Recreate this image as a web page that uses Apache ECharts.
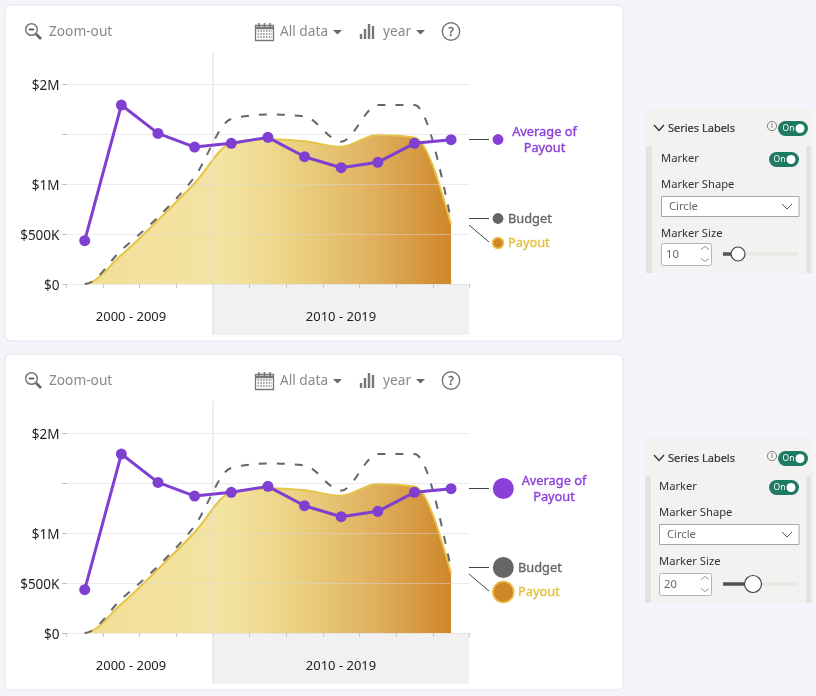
<!DOCTYPE html>
<html>
<head>
<meta charset="utf-8">
<title>Series label marker sizes</title>
<script src="https://cdn.jsdelivr.net/npm/echarts@6/dist/echarts.min.js"></script>
<style>
html,body{margin:0;padding:0;background:#f3f5fa;}
#chart{width:816px;height:696px;}
</style>
</head>
<body>
<div id="chart"></div>
<script>
// Yearly figures shown in both cards
const years = ['2006','2007','2008','2009','2010','2011','2012','2013','2014','2015','2016'];
const averagePayout = [434000,1794000,1510000,1373000,1410000,1470000,1276000,1166000,1220000,1410000,1447000];
const budget = [0,340000,670000,1075000,1655000,1700000,1680000,1427000,1794000,1794000,640000];
const payout = [0,290000,640000,1010000,1410000,1450000,1430000,1376000,1497000,1470000,600000];
const yTicks = {0:'$0',500000:'$500K',1000000:'$1M',2000000:'$2M'};
const decades = ['2000 - 2009','2010 - 2019'];
const seriesNames = {avg:['Average of','Payout'],budget:'Budget',payout:'Payout'};

const FONT = '"Noto Sans", sans-serif';
const PURPLE = '#7f3fd0', GOLD = '#e6c445', GREY = '#666666', ORANGE = '#d0872a';
const GREEN = '#1f7a64', TOOL = '#8a8a8a', INK = '#3c3c3c';

const cards = [
  {dy:0, markerR:5.4, avgX:544.5, labelX:508, markerSize:'10', knobX:738, knobR:7, panelDy:0, panelDx:0, spinW:50},
  {dy:349, markerR:10.5, avgX:554, labelX:518, markerSize:'20', knobX:753, knobR:8.5, panelDy:330, panelDx:-2, spinW:52}
];

function text(x, y, str, o) {
  o = o || {};
  const style = {x, y:y+0.8, text:str,
    fill:o.fill||INK, font:'400 '+(o.size||13)+'px '+FONT,
    textAlign:o.align||'left', textVerticalAlign:'middle', verticalAlign:'middle'};
  if (o.heavy) { style.stroke = o.fill; style.lineWidth = o.heavy; }
  return {type:'text', z:o.z||5, silent:true, style};
}
function line(x1,y1,x2,y2,color,w,z) {
  return {type:'line', z:z||5, silent:true, shape:{x1,y1,x2,y2}, style:{stroke:color,lineWidth:w||1,lineCap:'butt'}};
}
function rect(x,y,width,height,o) {
  o = o || {};
  return {type:'rect', z:o.z==null?1:o.z, silent:true, shape:{x,y,width,height,r:o.r||0},
    style:{fill:o.fill||'none', stroke:o.stroke||null, lineWidth:o.lw||1}};
}
function circle(cx,cy,r,o) {
  return {type:'circle', z:o.z||5, silent:true, shape:{cx,cy,r},
    style:{fill:o.fill||'none', stroke:o.stroke||null, lineWidth:o.lw||1}};
}
function poly(points, o) {
  return {type:'polyline', z:5, silent:true, shape:{points}, style:{stroke:o.stroke,lineWidth:o.lw||1.2,fill:'none'}};
}
function tri(x,y,w,h,color) {
  return {type:'polygon', z:5, silent:true, shape:{points:[[x,y],[x+w,y],[x+w/2,y+h]]}, style:{fill:color}};
}
function toggle(x,y,w,h) {
  return [
    rect(x,y,w,h,{fill:GREEN,r:h/2,z:5}),
    text(x+w*0.35,y+h/2-0.5,'On',{fill:'#ffffff',size:8.5,align:'center',z:6}),
    circle(x+w-h/2-0.5,y+h/2,h/2-3,{fill:'#ffffff',z:6})
  ];
}

// Card frame, toolbar, decade band and series labels for one chart
function cardGraphics(c) {
  const d = c.dy, els = [];
  els.push(rect(5,5+d,618,336,{fill:'#ffffff',stroke:'#e2e5ec',r:6,z:-3}));
  els.push(rect(213,284+d,256,51,{fill:'#f1f1f1',z:-2}));
  els.push(line(213,52+d,213,335+d,'rgba(222,222,222,0.7)',1.5,4));
  els.push(text(131,316+d,decades[0],{align:'center',size:13,fill:'#222'}));
  els.push(text(341,316+d,decades[1],{align:'center',size:13,fill:'#222'}));

  // Zoom-out magnifier
  els.push(circle(31.5,29.5+d,5.8,{stroke:'#777',lw:1.5}));
  els.push(line(28.8,29.5+d,34.2,29.5+d,'#555',1.8));
  els.push(line(36,34+d,41,39+d,'#666',2.6));
  els.push(text(49,31.5+d,'Zoom-out',{fill:TOOL,size:13.7}));

  // Calendar
  els.push(rect(255.5,25.5+d,18,15,{stroke:'#777',lw:1.3,z:5}));
  els.push(line(255.5,28+d,273.5,28+d,'#777',2.5));
  [259,264.5,270].forEach(x=>els.push(line(x,23+d,x,27+d,'#777',1.6)));
  [31,34,37].forEach(y=>els.push({type:'line',z:5,silent:true,shape:{x1:257.5,y1:y+d,x2:272,y2:y+d},style:{stroke:'#888',lineWidth:1.6,lineDash:[1.6,1.2]}}));
  els.push(text(280,31.5+d,'All data',{fill:TOOL,size:13.7}));
  els.push(tri(333,30+d,9,4.5,'#666'));

  // Granularity bars
  [[361,34],[365,29],[369,24],[373,26]].forEach(b=>els.push(line(b[0],b[1]+d,b[0],39+d,'#777',2.4)));
  els.push(text(383,31.5+d,'year',{fill:TOOL,size:13.7}));
  els.push(tri(416,30+d,9,4.5,'#666'));

  // Help
  els.push(circle(451,31.5+d,8.7,{stroke:'#777',lw:1.4}));
  els.push(text(451,31.5+d,'?',{fill:'#666',size:12,align:'center',heavy:0.4}));

  // Series labels beside the plot
  const r = c.markerR, mx = 498 + (r>6?5.3:0);
  const avgY = 139.5+d, budY = 218.5+d, payY = 243+d;
  els.push(line(469,avgY,489,avgY,'#444',1));
  els.push(line(469,budY,489,budY,'#444',1));
  els.push(line(469,225+d,489,242+d,'#444',1));
  els.push(circle(mx,avgY,r,{fill:'#8a3fd6'}));
  els.push(circle(mx,budY,r,{fill:GREY}));
  els.push(circle(mx,payY,r,{fill:ORANGE,stroke:GOLD,lw:1.6}));
  els.push(text(c.avgX,132+d,seriesNames.avg[0],{fill:'#8a3fd6',size:12.8,heavy:0.35,align:'center'}));
  els.push(text(c.avgX,148+d,seriesNames.avg[1],{fill:'#8a3fd6',size:12.8,heavy:0.35,align:'center'}));
  els.push(text(c.labelX,budY,seriesNames.budget,{fill:GREY,size:12.8,heavy:0.35}));
  els.push(text(c.labelX,payY,seriesNames.payout,{fill:'#e6c03c',size:12.8,heavy:0.35}));
  return els;
}

// Format pane showing the marker settings next to a chart
function panelGraphics(c) {
  const d = c.panelDy, e = c.panelDx, els = [];
  const shift = d ? -2 : 0;            // the lower pane's body sits a little higher
  els.push(rect(645,108+d,168,165,{fill:'#f3f2f0',z:0}));
  els.push(rect(646+e/2,146+d,6,127,{fill:'#e4e3df',z:1}));
  els.push(rect(806,146+d,5,127,{fill:'#e4e3df',z:1}));
  els.push(poly([[654,125+d],[659,130.5+d],[664,125+d]],{stroke:'#333',lw:1.3}));
  els.push(text(668,128+d,'Series Labels',{size:11,heavy:0.2,fill:'#333'}));
  els.push(circle(772,126+d,4.6,{stroke:'#777',lw:0.9}));
  els.push(text(772,125.5+d,'i',{size:7,align:'center',fill:'#555'}));
  toggle(778,121+d,30,15).forEach(x=>els.push(x));
  const x0 = 661+e;
  els.push(text(x0,158+d+shift,'Marker',{size:11.2,fill:'#333'}));
  toggle(769,152+d+shift,30,15).forEach(x=>els.push(x));
  els.push(text(x0,184+d+shift,'Marker Shape',{size:11.2,fill:'#333'}));
  els.push(rect(x0+.5,196+d+shift+.5,799-x0-.5,20,{fill:'#ffffff',stroke:'#a6a6a6',z:2}));
  els.push(text(x0+8,206+d+shift,'Circle',{size:11.2,fill:'#666'}));
  els.push(poly([[782,204+d+shift],[787,209+d+shift],[792,204+d+shift]],{stroke:'#555',lw:1}));
  els.push(text(x0,233+d+shift,'Marker Size',{size:11.2,fill:'#333'}));
  const sy = 243+d;
  els.push(rect(x0+.5,sy+.5,c.spinW,22,{fill:'#ffffff',stroke:'#b4b4b4',r:2,z:2}));
  els.push(text(x0+5,sy+11,c.markerSize,{size:11.2,fill:'#666'}));
  els.push(poly([[701,sy+6.5],[705,sy+3.5],[709,sy+6.5]],{stroke:'#888',lw:.9}));
  els.push(poly([[701,sy+15.5],[705,sy+18.5],[709,sy+15.5]],{stroke:'#888',lw:.9}));
  els.push(line(723,sy+11,798,sy+11,'#e9e8e5',3.5));
  els.push(line(723,sy+11,c.knobX,sy+11,'#555',3.5));
  els.push(circle(c.knobX,sy+11,c.knobR,{fill:'#ffffff',stroke:'#444',lw:1.2,z:6}));
  return els;
}

// Monotone cubic path through pixel points: flat at local extrema and at the start
function monotonePath(pts) {
  const n = pts.length, slopes = [];
  const sign = v => v < 0 ? -1 : 1;
  for (let i = 1; i < n - 1; i++) {
    const h0 = pts[i][0]-pts[i-1][0], h1 = pts[i+1][0]-pts[i][0];
    const s0 = (pts[i][1]-pts[i-1][1])/h0, s1 = (pts[i+1][1]-pts[i][1])/h1;
    const p = (s0*h1+s1*h0)/(h0+h1);
    slopes[i] = (sign(s0)+sign(s1))*Math.min(Math.abs(s0),Math.abs(s1),0.5*Math.abs(p)) || 0;
  }
  const edge = (a,b,t) => (3*(b[1]-a[1])/(b[0]-a[0]) - t)/2;
  slopes[0] = 0;
  slopes[n-1] = edge(pts[n-2],pts[n-1],slopes[n-2]);
  let d = 'M'+pts[0][0]+' '+pts[0][1];
  for (let i = 0; i < n-1; i++) {
    const dx = (pts[i+1][0]-pts[i][0])/3;
    d += 'C'+(pts[i][0]+dx)+' '+(pts[i][1]+dx*slopes[i])+' '+(pts[i+1][0]-dx)+' '+(pts[i+1][1]-dx*slopes[i+1])+' '+pts[i+1][0]+' '+pts[i+1][1];
  }
  return d;
}

// Curve series: one path per chart, placed through the axis scales
function curveSeries(name, values, axis, z, strokeStyle, fill) {
  return {
    name, type:'custom', xAxisIndex:axis, yAxisIndex:axis, z, coordinateSystem:'cartesian2d',
    data:values.map((v,i)=>[i,v]), encode:{x:0,y:1}, silent:true,
    renderItem(params, api) {
      if (params.dataIndex !== 0) return null;
      const pts = values.map((v,i)=>api.coord([i,v]));
      const curve = monotonePath(pts);
      const children = [];
      if (fill) {
        const base = api.coord([0,0])[1];
        const last = pts[pts.length-1], first = pts[0];
        children.push({type:'path', shape:{pathData:curve+'L'+last[0]+' '+base+'L'+first[0]+' '+base+'Z'},
          style:{fill, stroke:null}});
      }
      children.push({type:'path', shape:{pathData:curve}, style:Object.assign({fill:null}, strokeStyle)});
      return {type:'group', children};
    }
  };
}

const grids = cards.map(c=>({left:66.4,width:403,top:84.5+c.dy,height:199.5,containLabel:false}));
const xAxes = cards.map((c,i)=>({
  type:'category', gridIndex:i, data:years, boundaryGap:true,
  axisLine:{show:false}, axisLabel:{show:false},
  axisTick:{show:true,length:4,lineStyle:{color:'#c8c8c8'}}, splitLine:{show:false}
}));
const yAxes = cards.map((c,i)=>({
  type:'value', gridIndex:i, min:0, max:2000000, interval:500000, z:3,
  axisLine:{show:false},
  axisTick:{show:true,length:4,lineStyle:{color:'#b8b8b8'}},
  axisLabel:{margin:7,formatter:v=>yTicks[v]?'{t|'+yTicks[v]+'}':'',
    rich:{t:{color:'#222',fontFamily:FONT,fontSize:13.5,padding:[4,0,0,0]}}},
  splitLine:{show:true,lineStyle:{color:'rgba(215,215,215,0.5)',width:1}}
}));
const series = [];
cards.forEach((c,i)=>{
  series.push(curveSeries('Payout',payout,i,2,{stroke:GOLD,lineWidth:2},
    new echarts.graphic.LinearGradient(0,0,1,0,[
      {offset:0,color:'#f1df98'},{offset:0.38,color:'#f3e4a2'},{offset:0.5,color:'#efd98e'},{offset:0.62,color:'#e8cb7a'},
      {offset:0.8,color:'#dfae5c'},{offset:1,color:'#cf872a'}])));
  series.push(curveSeries('Budget',budget,i,4,{stroke:GREY,lineWidth:2,lineDash:[8,10]}));
  series.push({
    name:'Average of Payout', type:'line', xAxisIndex:i, yAxisIndex:i, data:averagePayout, z:6,
    symbol:'circle', symbolSize:11, showSymbol:true,
    lineStyle:{color:PURPLE,width:3}, itemStyle:{color:PURPLE,borderWidth:0}
  });
});

const chart = echarts.init(document.getElementById('chart'),null,{renderer:'canvas',width:816,height:696});
chart.setOption({
  animation:false,
  backgroundColor:'#f3f5fa',
  grid:grids, xAxis:xAxes, yAxis:yAxes, series,
  graphic:{elements:cards.flatMap(c=>cardGraphics(c).concat(panelGraphics(c)))}
});
</script>
</body>
</html>
